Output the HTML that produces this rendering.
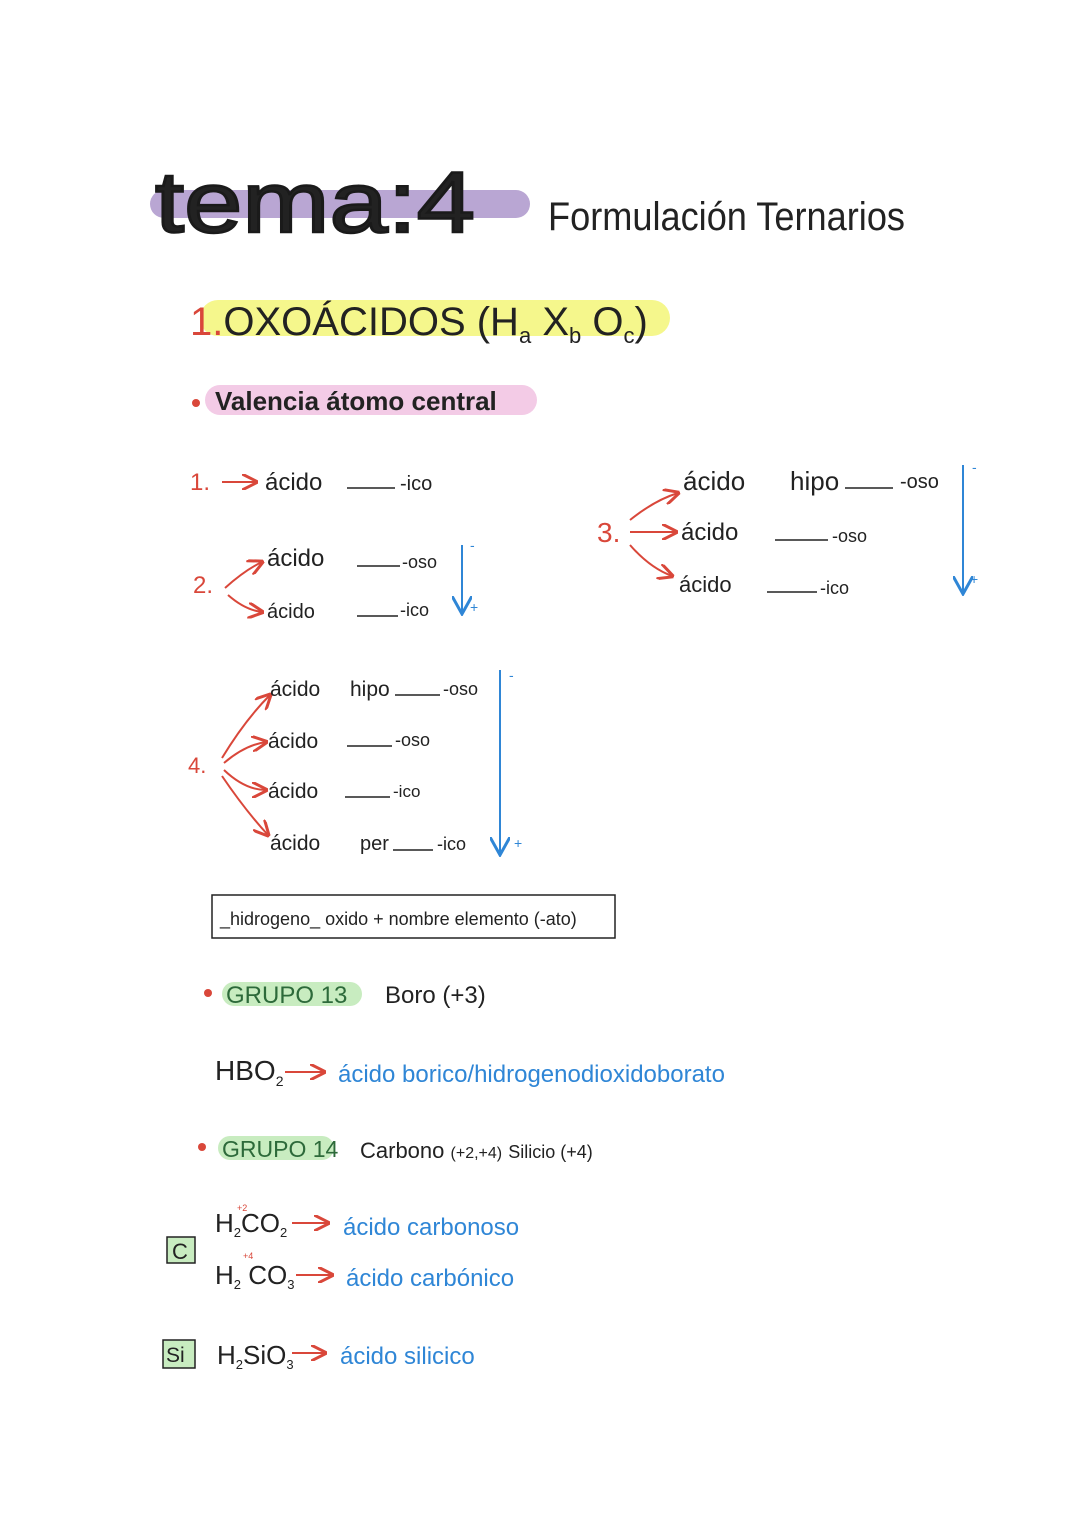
<!DOCTYPE html>
<html><head><meta charset="utf-8"><style>
html,body{margin:0;padding:0;background:#fff;}
svg{display:block;}
text{font-family:"Liberation Sans",sans-serif;fill:#222;}
.r{fill:#d9473a;}
.b{fill:#2f86d6;}
.g{fill:#2d6a3a;}
</style></head><body>
<svg width="1080" height="1527" viewBox="0 0 1080 1527" xmlns="http://www.w3.org/2000/svg">
<defs>
<marker id="ar" markerWidth="8" markerHeight="8" refX="7" refY="4" orient="auto"><path d="M0,0 L8,4 L0,8" fill="none" stroke="#d9473a" stroke-width="1.5"/></marker>
<marker id="ab" markerWidth="10" markerHeight="10" refX="9" refY="5" orient="auto"><path d="M0,0 L9,5 L0,10" fill="none" stroke="#2f86d6" stroke-width="1.5"/></marker>
</defs>
<rect x="150" y="190" width="380" height="28" rx="14" fill="#b9a6d3"/>
<text x="155" y="232" font-size="86" fill="#1a1a1a" stroke="#1a1a1a" stroke-width="2.5" textLength="320" lengthAdjust="spacingAndGlyphs">tema:4</text>
<text x="548" y="230" font-size="40" textLength="357" lengthAdjust="spacingAndGlyphs">Formulación Ternarios</text>
<rect x="200" y="300" width="470" height="36" rx="18" fill="#f5f78c"/>
<text x="190" y="335" font-size="40"><tspan class="r">1.</tspan>OXOÁCIDOS (H<tspan font-size="22" dy="8">a</tspan><tspan dy="-8"> X</tspan><tspan font-size="22" dy="8">b</tspan><tspan dy="-8"> O</tspan><tspan font-size="22" dy="8">c</tspan><tspan dy="-8">)</tspan></text>
<circle cx="196" cy="403" r="4" fill="#d9473a"/>
<rect x="205" y="385" width="332" height="30" rx="15" fill="#f3cbe6"/>
<text x="215" y="410" font-size="26" font-weight="bold">Valencia  átomo  central</text>
<g font-size="24">
<text x="190" y="490" class="r">1.</text>
<line x1="222" y1="482" x2="256" y2="482" stroke="#d9473a" stroke-width="2" marker-end="url(#ar)"/>
<text x="265" y="490">ácido</text><line x1="347" y1="488" x2="395" y2="488" stroke="#222" stroke-width="1.5"/><text x="400" y="490" font-size="20">-ico</text>
<text x="193" y="593" class="r">2.</text>
<path d="M225,588 Q245,570 262,562" fill="none" stroke="#d9473a" stroke-width="2" marker-end="url(#ar)"/>
<path d="M228,595 Q245,610 262,612" fill="none" stroke="#d9473a" stroke-width="2" marker-end="url(#ar)"/>
<text x="267" y="566">ácido</text><line x1="357" y1="566" x2="400" y2="566" stroke="#222" stroke-width="1.5"/><text x="402" y="568" font-size="18">-oso</text>
<text x="267" y="618" font-size="20">ácido</text><line x1="357" y1="616" x2="398" y2="616" stroke="#222" stroke-width="1.5"/><text x="400" y="616" font-size="18">-ico</text>
<line x1="462" y1="545" x2="462" y2="614" stroke="#2f86d6" stroke-width="2" marker-end="url(#ab)"/>
<text x="470" y="550" font-size="14" class="b">-</text><text x="470" y="612" font-size="14" class="b">+</text>
<text x="597" y="542" class="r" font-size="28">3.</text>
<path d="M630,520 Q655,500 678,493" fill="none" stroke="#d9473a" stroke-width="2" marker-end="url(#ar)"/>
<line x1="630" y1="532" x2="676" y2="532" stroke="#d9473a" stroke-width="2" marker-end="url(#ar)"/>
<path d="M630,545 Q650,568 672,576" fill="none" stroke="#d9473a" stroke-width="2" marker-end="url(#ar)"/>
<text x="683" y="490" font-size="26">ácido</text><text x="790" y="490" font-size="26">hipo</text><line x1="845" y1="488" x2="893" y2="488" stroke="#222" stroke-width="1.5"/><text x="900" y="488" font-size="20">-oso</text>
<text x="681" y="540">ácido</text><line x1="775" y1="540" x2="828" y2="540" stroke="#222" stroke-width="1.5"/><text x="832" y="542" font-size="18">-oso</text>
<text x="679" y="592" font-size="22">ácido</text><line x1="767" y1="592" x2="817" y2="592" stroke="#222" stroke-width="1.5"/><text x="820" y="594" font-size="18">-ico</text>
<line x1="963" y1="465" x2="963" y2="594" stroke="#2f86d6" stroke-width="2" marker-end="url(#ab)"/>
<text x="972" y="472" font-size="14" class="b">-</text><text x="970" y="584" font-size="14" class="b">+</text>
<text x="188" y="773" class="r" font-size="22">4.</text>
<path d="M222,758 Q245,720 270,695" fill="none" stroke="#d9473a" stroke-width="2" marker-end="url(#ar)"/>
<path d="M224,763 Q245,745 266,742" fill="none" stroke="#d9473a" stroke-width="2" marker-end="url(#ar)"/>
<path d="M224,770 Q245,790 266,790" fill="none" stroke="#d9473a" stroke-width="2" marker-end="url(#ar)"/>
<path d="M222,776 Q245,810 268,835" fill="none" stroke="#d9473a" stroke-width="2" marker-end="url(#ar)"/>
<text x="270" y="696" font-size="21">ácido</text><text x="350" y="696" font-size="21">hipo</text><line x1="395" y1="695" x2="440" y2="695" stroke="#222" stroke-width="1.5"/><text x="443" y="695" font-size="18">-oso</text>
<text x="268" y="748" font-size="21">ácido</text><line x1="347" y1="746" x2="392" y2="746" stroke="#222" stroke-width="1.5"/><text x="395" y="746" font-size="18">-oso</text>
<text x="268" y="798" font-size="21">ácido</text><line x1="345" y1="797" x2="390" y2="797" stroke="#222" stroke-width="1.5"/><text x="393" y="797" font-size="17">-ico</text>
<text x="270" y="850" font-size="21">ácido</text><text x="360" y="850" font-size="20">per</text><line x1="393" y1="850" x2="433" y2="850" stroke="#222" stroke-width="1.5"/><text x="437" y="850" font-size="18">-ico</text>
<line x1="500" y1="670" x2="500" y2="855" stroke="#2f86d6" stroke-width="2" marker-end="url(#ab)"/>
<text x="509" y="680" font-size="14" class="b">-</text><text x="514" y="848" font-size="14" class="b">+</text>
</g>
<rect x="212" y="895" width="403" height="43" fill="none" stroke="#222" stroke-width="1.5"/>
<text x="220" y="925" font-size="18">_hidrogeno_ oxido + nombre elemento (-ato)</text>
<circle cx="208" cy="993" r="4" fill="#d9473a"/>
<rect x="222" y="982" width="140" height="24" rx="12" fill="#c8ecc0"/>
<text x="226" y="1003" font-size="24" class="g">GRUPO  13</text>
<text x="385" y="1003" font-size="24">Boro (+3)</text>
<text x="215" y="1080" font-size="28">HBO<tspan font-size="14" dy="6">2</tspan></text>
<line x1="285" y1="1072" x2="324" y2="1072" stroke="#d9473a" stroke-width="2" marker-end="url(#ar)"/>
<text x="338" y="1082" font-size="24" class="b">ácido  borico/hidrogenodioxidoborato</text>
<circle cx="202" cy="1147" r="4" fill="#d9473a"/>
<rect x="218" y="1136" width="116" height="24" rx="12" fill="#c8ecc0"/>
<text x="222" y="1157" font-size="23" class="g">GRUPO  14</text>
<text x="360" y="1158" font-size="22">Carbono <tspan font-size="16">(+2,+4)</tspan>  <tspan font-size="18">Silicio (+4)</tspan></text>
<text x="215" y="1232" font-size="26">H<tspan font-size="13" dy="5">2</tspan><tspan dy="-5">CO</tspan><tspan font-size="13" dy="5">2</tspan></text>
<text x="237" y="1211" font-size="9" class="r">+2</text>
<line x1="292" y1="1223" x2="328" y2="1223" stroke="#d9473a" stroke-width="2" marker-end="url(#ar)"/>
<text x="343" y="1235" font-size="24" class="b">ácido  carbonoso</text>
<rect x="167" y="1237" width="28" height="26" fill="#c8ecc0" stroke="#222" stroke-width="1.5"/>
<text x="172" y="1259" font-size="22">C</text>
<text x="215" y="1284" font-size="26">H<tspan font-size="13" dy="5">2</tspan><tspan dy="-5"> CO</tspan><tspan font-size="13" dy="5">3</tspan></text>
<text x="243" y="1259" font-size="9" class="r">+4</text>
<line x1="296" y1="1275" x2="332" y2="1275" stroke="#d9473a" stroke-width="2" marker-end="url(#ar)"/>
<text x="346" y="1286" font-size="24" class="b">ácido  carbónico</text>
<rect x="163" y="1340" width="32" height="28" fill="#c8ecc0" stroke="#222" stroke-width="1.5"/>
<text x="166" y="1362" font-size="21">Si</text>
<text x="217" y="1364" font-size="26">H<tspan font-size="13" dy="5">2</tspan><tspan dy="-5">SiO</tspan><tspan font-size="13" dy="5">3</tspan></text>
<line x1="292" y1="1353" x2="325" y2="1353" stroke="#d9473a" stroke-width="2" marker-end="url(#ar)"/>
<text x="340" y="1364" font-size="24" class="b">ácido  silicico</text>
</svg>
</body></html>
